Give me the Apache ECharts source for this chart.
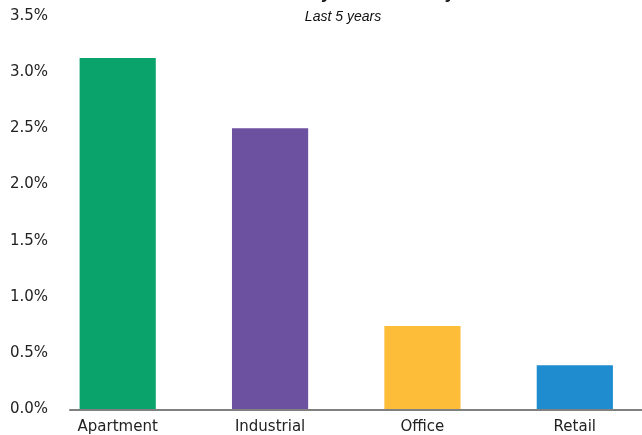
<!DOCTYPE html>
<html>
<head>
<meta charset="utf-8">
<script src="https://cdn.jsdelivr.net/npm/echarts@6/dist/echarts.min.js"></script>
<style>
  html, body { margin: 0; padding: 0; background: #fff; overflow: hidden; }
  /* a little wider than the window: the last category band runs past the right edge */
  #main { width: 651px; height: 435px; }
</style>
</head>
<body>
<div id="main"></div>
<script>
// data
var categories = ['Apartment', 'Industrial', 'Office', 'Retail'];
var values = [3.125, 2.50, 0.74, 0.39];
var barColors = ['#0AA36C', '#6C51A0', '#FDBD38', '#1F8CCF'];
var yTicks = { min: 0, max: 3.5, step: 0.5 };

var chart = echarts.init(document.getElementById('main'));

var option = {
  animation: false,
  title: [
    {
      text: 'Yearly Rent Volatility',
      left: 278,
      top: -16,
      padding: 0,
      textStyle: { fontFamily: 'Liberation Sans', fontWeight: 'bold', fontSize: 18, color: '#111' }
    },
    {
      text: 'Last 5 years',
      left: 343,
      textAlign: 'center',
      top: 10,
      padding: 0,
      textStyle: { fontFamily: 'Liberation Sans', fontStyle: 'italic', fontWeight: 'normal', fontSize: 14, color: '#111' }
    }
  ],
  grid: [
    // bars
    { left: 41.5, right: 0, top: 16, bottom: 25.7 },
    // axis line + y labels
    { left: 70, right: 9, top: 16, bottom: 25.7 }
  ],
  xAxis: [
    {
      type: 'category',
      gridIndex: 0,
      data: categories,
      axisLine: { show: false },
      axisTick: { show: false },
      axisLabel: { fontFamily: 'DejaVu Sans', fontSize: 15, color: '#222', margin: 11 }
    },
    {
      type: 'value',
      gridIndex: 1,
      min: 0,
      max: 1,
      axisLine: { show: true, lineStyle: { color: '#808080', width: 2 } },
      axisTick: { show: false },
      axisLabel: { show: false },
      splitLine: { show: false }
    }
  ],
  yAxis: [
    {
      type: 'value',
      gridIndex: 0,
      min: yTicks.min,
      max: yTicks.max,
      show: false,
      splitLine: { show: false }
    },
    {
      type: 'value',
      gridIndex: 1,
      min: yTicks.min,
      max: yTicks.max,
      interval: yTicks.step,
      axisLine: { show: false },
      axisTick: { show: false },
      splitLine: { show: false },
      axisLabel: {
        fontFamily: 'DejaVu Sans',
        fontSize: 15,
        color: '#222',
        align: 'left',
        margin: 60,
        formatter: function (v) { return v.toFixed(1) + '%'; }
      }
    }
  ],
  series: [
    {
      type: 'bar',
      xAxisIndex: 0,
      yAxisIndex: 0,
      barWidth: '50%',
      data: values.map(function (v, i) {
        return { value: v, itemStyle: { color: barColors[i] } };
      })
    }
  ]
};

chart.setOption(option);
</script>
</body>
</html>
